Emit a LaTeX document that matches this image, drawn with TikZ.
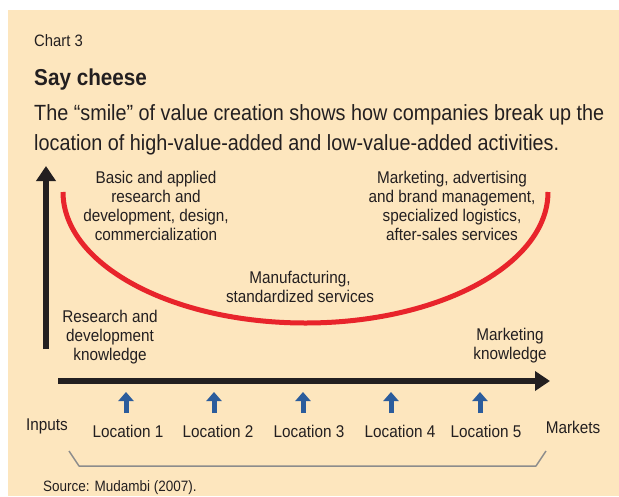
\documentclass[tikz,border=0pt]{standalone}
\usepackage{fontspec}
\setmainfont{Liberation Sans}[FakeStretch=0.9]
\usetikzlibrary{arrows.meta}
\definecolor{bgpeach}{HTML}{FDE6BE}
\definecolor{txt}{HTML}{231F20}
\definecolor{smilered}{HTML}{E8242B}
\definecolor{locblue}{HTML}{2B5C9C}
\definecolor{brgrey}{HTML}{8C8C8C}
\tikzset{
  lbl/.style={text=txt, align=center, inner sep=0pt, font=\fontsize{17}{19}\selectfont},
  axis/.style={line width=6pt, -{Triangle[width=19pt,length=15pt]}, txt},
  locarrow/.style={line width=5pt, locblue, -{Triangle[width=15pt,length=9pt]}},
}
\begin{document}
\begin{tikzpicture}[x=1pt,y=-1pt]
\useasboundingbox (0,0) rectangle (619,496);
\fill[bgpeach] (8,10) rectangle (619,496);
% header
\node[text=txt, anchor=base west, inner sep=0pt, font=\fontsize{16.5}{18}\selectfont] (chart) at (34,46) {Chart 3};
\node[text=txt, anchor=base west, inner sep=0pt, font=\fontsize{23}{26}\selectfont\bfseries] (title) at (34,85) {Say cheese};
\node[text=txt, anchor=base west, inner sep=0pt, font=\fontsize{22}{30}\selectfont] (sub1) at (34,120) {The “smile” of value creation shows how companies break up the};
\node[text=txt, anchor=base west, inner sep=0pt, font=\fontsize{22}{30}\selectfont] (sub2) at (34,150) {location of high-value-added and low-value-added activities.};
% axes
\coordinate (vbot) at (46,349);
\coordinate (vtop) at (46,166);
\coordinate (hleft) at (58,381);
\coordinate (hright) at (550,381);
\draw[axis] (vbot) -- (vtop);
\draw[axis] (hleft) -- (hright);
% smile
\coordinate (sl) at (63,192);
\draw[smilered, line width=5pt] (sl) arc[start angle=180, end angle=360, x radius=242.5pt, y radius=131pt] coordinate (sr);
% labels
\node[lbl] (basic) at (156,206) {Basic and applied\\research and\\development, design,\\commercialization};
\node[lbl] (mkt) at (452,206) {Marketing, advertising\\and brand management,\\specialized logistics,\\after-sales services};
\node[lbl] (manu) at (300,287) {Manufacturing,\\standardized services};
\node[lbl] (rdk) at (110,337) {Research and\\development\\knowledge};
\node[lbl] (mk) at (510,346) {Marketing\\knowledge};
% locations
\node[lbl] (inputs) at (47,426) {Inputs};
\node[lbl] (markets) at (573,427) {Markets};
\foreach \i/\x/\ax in {1/128/126, 2/218/214, 3/309/303, 4/400/391, 5/486/480} {
  \node[lbl] (loc\i) at (\x,431) {Location \i};
  \coordinate (ab\i) at (\ax,413);
  \coordinate (at\i) at (\ax,392);
  \draw[locarrow] (ab\i) -- (at\i);
}
% bracket
\coordinate (b1) at (69,451);
\coordinate (b2) at (79,466);
\coordinate (b3) at (536,466);
\coordinate (b4) at (546,451);
\draw[brgrey, line width=1.5pt, line join=round] (b1) -- (b2) -- (b3) -- (b4);
% source
\node[text=txt, anchor=base west, inner sep=0pt, font=\fontsize{15}{17}\selectfont] (src) at (43,491) {Source: Mudambi (2007).};
\end{tikzpicture}
\end{document}
